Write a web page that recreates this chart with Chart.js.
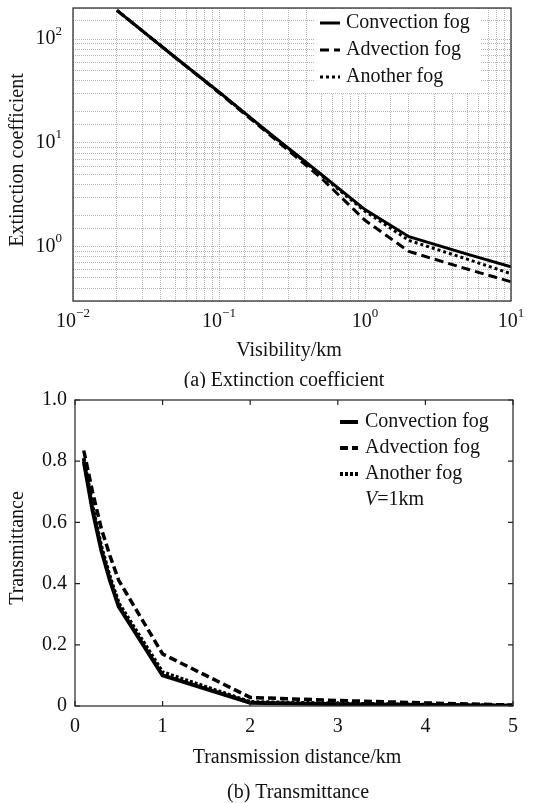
<!DOCTYPE html>
<html>
<head>
<meta charset="utf-8">
<script src="https://cdn.jsdelivr.net/npm/chart.js@4.4.0/dist/chart.umd.min.js"></script>
<style>
    html, body { margin: 0; padding: 0; background: #fff; }
    #wrapA { position: absolute; left: 0; top: 0; width: 538px; height: 388px; }
    #wrapB { position: absolute; left: 0; top: 388px; width: 538px; height: 415px; }
</style>
</head>
<body>
<div id="wrapA"><canvas id="extinctionChart" width="538" height="388"></canvas></div>
<div id="wrapB"><canvas id="transChart" width="538" height="415"></canvas></div>
<script>
// (a) extinction coefficient vs visibility (log-log)
const visibility = [0.02, 0.05, 0.1, 0.2, 0.5, 1, 2, 5, 10];
const convectionBeta = [190, 67, 31, 14, 5.0, 2.28, 1.25, 0.85, 0.64];
const advectionBeta = [190, 67, 30.5, 13.6, 4.6, 1.8, 0.9, 0.61, 0.46];
const anotherBeta = [190, 67, 31, 13.9, 4.9, 2.2, 1.15, 0.76, 0.55];
const xTickPowers = [-2, -1, 0, 1];
const yTickPowers = [0, 1, 2];

// (b) transmittance vs distance, V = 1 km
const distance = [0.1, 0.2, 0.3, 0.4, 0.5, 1, 2, 3, 4, 5];
const convectionT = [0.80, 0.64, 0.51, 0.41, 0.325, 0.10, 0.011, 0.006, 0.003, 0.001];
const advectionT = [0.835, 0.70, 0.58, 0.49, 0.41, 0.17, 0.028, 0.018, 0.010, 0.003];
const anotherT = [0.81, 0.65, 0.52, 0.42, 0.335, 0.11, 0.013, 0.008, 0.004, 0.001];
const distTicks = [0, 1, 2, 3, 4, 5];
const transTicks = [0, 0.2, 0.4, 0.6, 0.8, 1.0];

const seriesNames = ["Convection fog", "Advection fog", "Another fog"];

const serif = '"Liberation Serif", "Times New Roman", serif';
const ink = "#111";

function pairs(xs, ys) {
    return xs.map(function (x, i) { return { x: x, y: ys[i] }; });
}

function text(ctx, str, x, y, size, align, italic) {
    ctx.font = (italic ? "italic " : "") + size + "px " + serif;
    ctx.fillStyle = ink;
    ctx.textAlign = align || "center";
    ctx.textBaseline = "middle";
    ctx.fillText(str, x, y);
}

function drawPow(ctx, x, y, p, align) {
    const exp = p < 0 ? "\u2212" + Math.abs(p) : String(p);
    ctx.font = "20px " + serif;
    const w1 = ctx.measureText("10").width;
    ctx.font = "13px " + serif;
    const w2 = ctx.measureText(exp).width;
    const start = align === "center" ? x - (w1 + w2) / 2 : x - (w1 + w2);
    text(ctx, "10", start, y, 20, "left");
    text(ctx, exp, start + w1, y - 8, 13, "left");
}

function drawLegend(ctx, opts, datasets) {
    if (opts.box) {
        ctx.fillStyle = "#fff";
        ctx.fillRect(opts.box[0], opts.box[1], opts.box[2], opts.box[3]);
    }
    datasets.forEach(function (ds, i) {
        const y = opts.y0 + i * opts.dy;
        ctx.save();
        ctx.strokeStyle = "#000";
        ctx.lineWidth = opts.lw;
        ctx.setLineDash(ds.borderDash || []);
        ctx.beginPath();
        ctx.moveTo(opts.x0, y);
        ctx.lineTo(opts.x1, y);
        ctx.stroke();
        ctx.restore();
        text(ctx, ds.label, opts.tx, y, 20, "left");
    });
    if (opts.note) {
        const y = opts.y0 + datasets.length * opts.dy;
        ctx.font = "italic 20px " + serif;
        const wv = ctx.measureText("V").width;
        text(ctx, "V", opts.tx, y, 20, "left", true);
        text(ctx, "=1km", opts.tx + wv, y, 20, "left");
    }
}

const figPlugin = {
    id: "fig",
    afterDatasetsDraw(chart, args, opts) {
        const ctx = chart.ctx;
        const a = chart.chartArea;
        const xs = chart.scales.x;
        const ys = chart.scales.y;
        ctx.save();

        if (opts.legend) drawLegend(ctx, opts.legend, chart.data.datasets);

        // frame
        ctx.strokeStyle = "#333";
        ctx.lineWidth = 1.3;
        ctx.setLineDash([]);
        ctx.strokeRect(a.left, a.top, a.right - a.left, a.bottom - a.top);

        if (opts.log) {
            xTickPowers.forEach(function (p) {
                drawPow(ctx, xs.getPixelForValue(Math.pow(10, p)), opts.xLabelY, p, "center");
            });
            yTickPowers.forEach(function (p) {
                drawPow(ctx, opts.yLabelX, ys.getPixelForValue(Math.pow(10, p)), p, "right");
            });
        } else {
            ctx.strokeStyle = "#222";
            ctx.lineWidth = 1.2;
            distTicks.forEach(function (v) {
                const px = xs.getPixelForValue(v);
                ctx.beginPath();
                ctx.moveTo(px, a.bottom); ctx.lineTo(px, a.bottom - 5);
                ctx.moveTo(px, a.top); ctx.lineTo(px, a.top + 5);
                ctx.stroke();
                text(ctx, String(v), px, opts.xLabelY, 20, "center");
            });
            transTicks.forEach(function (v) {
                const py = ys.getPixelForValue(v);
                ctx.beginPath();
                ctx.moveTo(a.left, py); ctx.lineTo(a.left + 5, py);
                ctx.moveTo(a.right, py); ctx.lineTo(a.right - 5, py);
                ctx.stroke();
                text(ctx, v === 0 ? "0" : v.toFixed(1), opts.yLabelX, py, 20, "right");
            });
        }

        text(ctx, opts.xTitle, opts.xTitleX, opts.xTitleY, 20, "center");
        text(ctx, opts.caption, opts.captionX, opts.captionY, 20, "center");
        ctx.translate(opts.yTitleX, opts.yTitleY);
        ctx.rotate(-Math.PI / 2);
        text(ctx, opts.yTitle, 0, 0, 20, "center");
        ctx.restore();
    }
};

const gridDots = { color: "#b4b4b4", lineWidth: 1, drawTicks: false };

new Chart(document.getElementById("extinctionChart"), {
    type: "line",
    data: {
        datasets: [
            { label: seriesNames[0], data: pairs(visibility, convectionBeta), borderColor: "#000", borderWidth: 3, borderDash: [] },
            { label: seriesNames[1], data: pairs(visibility, advectionBeta), borderColor: "#000", borderWidth: 3, borderDash: [9, 5] },
            { label: seriesNames[2], data: pairs(visibility, anotherBeta), borderColor: "#000", borderWidth: 3, borderDash: [3, 3] }
        ]
    },
    options: {
        responsive: false,
        animation: false,
        elements: { point: { radius: 0 }, line: { tension: 0 } },
        layout: { padding: { left: 73, right: 27, top: 8, bottom: 87 } },
        scales: {
            x: {
                type: "logarithmic", min: 0.01, max: 10,
                grid: gridDots, border: { display: false, dash: [1, 1] },
                ticks: { display: false }
            },
            y: {
                type: "logarithmic", min: 0.3, max: 200,
                grid: gridDots, border: { display: false, dash: [1, 1] },
                ticks: { display: false }
            }
        },
        plugins: {
            legend: { display: false },
            tooltip: { enabled: false },
            fig: {
                log: true,
                xLabelY: 322, yLabelX: 62,
                xTitle: "Visibility/km", xTitleX: 289, xTitleY: 351,
                caption: "(a) Extinction coefficient", captionX: 284, captionY: 381,
                yTitle: "Extinction coefficient", yTitleX: 18, yTitleY: 160,
                legend: { box: [314, 9, 166, 84], x0: 320, x1: 340, tx: 346, y0: 23, dy: 27, lw: 3 }
            }
        }
    },
    plugins: [figPlugin]
});

new Chart(document.getElementById("transChart"), {
    type: "line",
    data: {
        datasets: [
            { label: seriesNames[0], data: pairs(distance, convectionT), borderColor: "#000", borderWidth: 4, borderDash: [] },
            { label: seriesNames[1], data: pairs(distance, advectionT), borderColor: "#000", borderWidth: 3.5, borderDash: [8, 4] },
            { label: seriesNames[2], data: pairs(distance, anotherT), borderColor: "#000", borderWidth: 4, borderDash: [3, 2] }
        ]
    },
    options: {
        responsive: false,
        animation: false,
        elements: { point: { radius: 0 }, line: { tension: 0 } },
        layout: { padding: { left: 75, right: 25, top: 12, bottom: 97 } },
        scales: {
            x: {
                type: "linear", min: 0, max: 5,
                grid: { display: false, drawTicks: false }, border: { display: false },
                ticks: { display: false }
            },
            y: {
                type: "linear", min: 0, max: 1,
                grid: { display: false, drawTicks: false }, border: { display: false },
                ticks: { display: false }
            }
        },
        plugins: {
            legend: { display: false },
            tooltip: { enabled: false },
            fig: {
                log: false,
                xLabelY: 339, yLabelX: 67,
                xTitle: "Transmission distance/km", xTitleX: 297, xTitleY: 370,
                caption: "(b) Transmittance", captionX: 298, captionY: 405,
                yTitle: "Transmittance", yTitleX: 18, yTitleY: 160,
                legend: { x0: 340, x1: 358, tx: 365, y0: 34, dy: 26, lw: 4, note: true }
            }
        }
    },
    plugins: [figPlugin]
});
</script>
</body>
</html>
